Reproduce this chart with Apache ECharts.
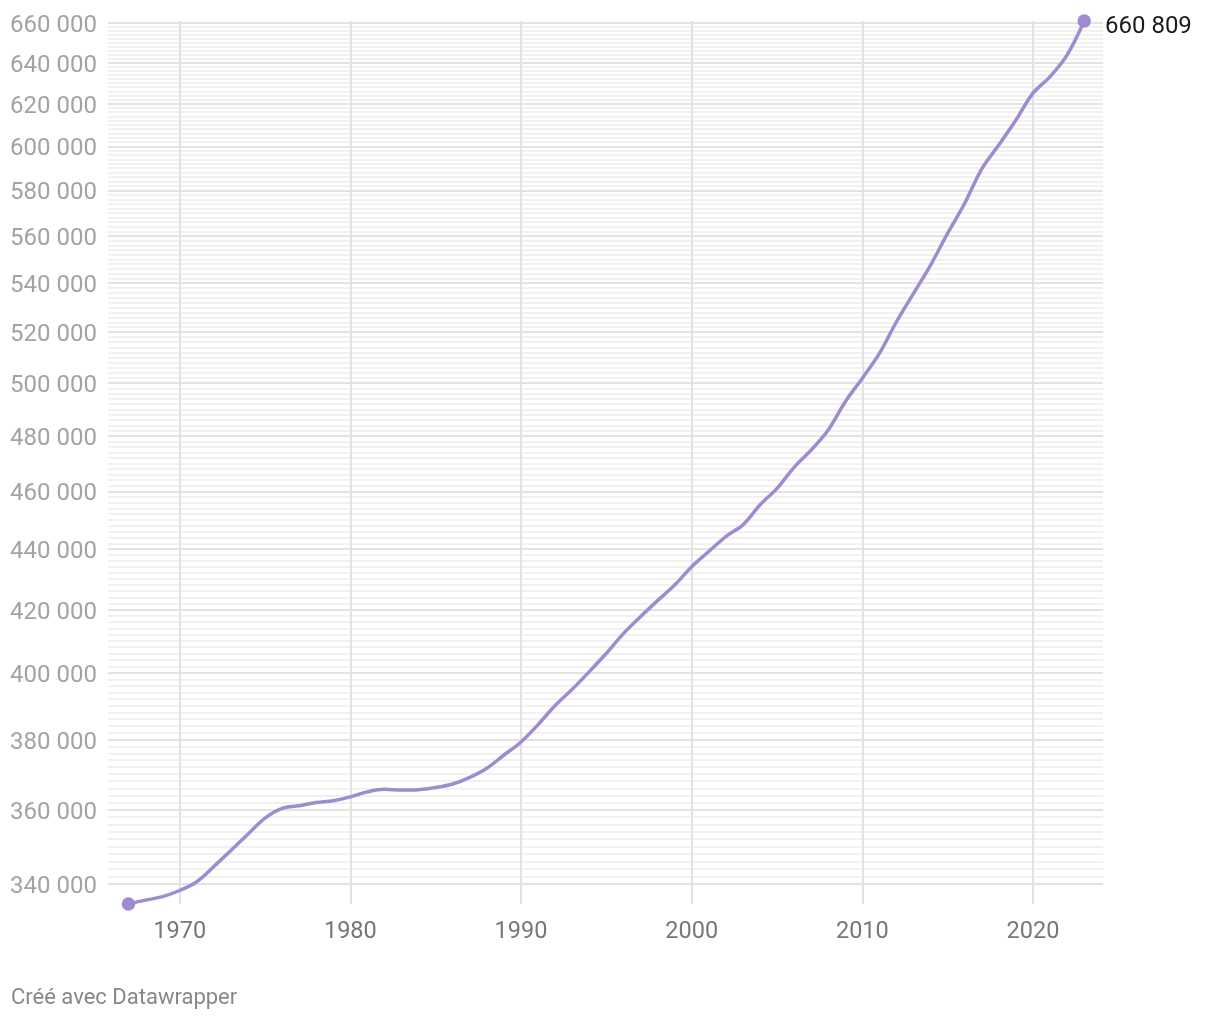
<!DOCTYPE html>
<html>
<head>
<meta charset="utf-8">
<script src="https://cdn.jsdelivr.net/npm/echarts@6/dist/echarts.min.js"></script>
<style>
html,body{margin:0;padding:0;background:#fff;}
#chart{width:1220px;height:1020px;}
</style>
</head>
<body>
<div id="chart"></div>
<script>
const years = [1967,1968,1969,1970,1971,1972,1973,1974,1975,1976,1977,1978,1979,1980,1981,1982,1983,1984,1985,1986,1987,1988,1989,1990,1991,1992,1993,1994,1995,1996,1997,1998,1999,2000,2001,2002,2003,2004,2005,2006,2007,2008,2009,2010,2011,2012,2013,2014,2015,2016,2017,2018,2019,2020,2021,2022,2023];
const population = [334800,335800,336700,338300,340600,344600,348900,353300,357700,360400,361100,362000,362500,363600,365000,365700,365500,365600,366200,367200,369100,371700,375500,379300,384400,390100,395000,400400,406100,412300,417700,422900,428000,434100,439200,444300,448300,455200,461100,468600,474900,482300,492900,501900,511600,524200,535800,547600,561200,574300,589700,600700,612300,625100,633100,643800,660809];
const yTicks = [340000,360000,380000,400000,420000,440000,460000,480000,500000,520000,540000,560000,580000,600000,620000,640000,660000];
const xTicks = [1970,1980,1990,2000,2010,2020];
const minorStep = 2000;

function fmt(v){ return String(v).replace(/\B(?=(\d{3})+(?!\d))/g, ' '); }

const minorTicks = [];
for (let v = yTicks[0] + minorStep; v < yTicks[yTicks.length-1]; v += minorStep) {
  if (yTicks.indexOf(v) < 0) minorTicks.push(v);
}

const yMin = Math.log(Math.min.apply(null, population));
const yMax = Math.log(Math.max.apply(null, population));
const lastIdx = population.length - 1;

const seriesData = years.map((y, i) => {
  const item = { value: [y, Math.log(population[i])] };
  if (i === lastIdx) {
    item.label = {
      show: true, position: 'right', distance: 14, offset: [0, 6],
      formatter: fmt(population[i]),
      color: '#1a1a1a', fontSize: 24, fontFamily: 'Roboto'
    };
  }
  return item;
});

const chart = echarts.init(document.getElementById('chart'), null, { renderer: 'canvas' });
chart.setOption({
  animation: false,
  backgroundColor: '#ffffff',
  grid: { left: 108, right: 117, top: 21, bottom: 116, containLabel: false },
  xAxis: {
    type: 'value', min: 1965.8, max: 2024.1,
    axisLine: { show: false },
    axisTick: { show: false, customValues: xTicks },
    axisLabel: {
      customValues: xTicks, color: '#777777', fontSize: 23.5, fontFamily: 'Roboto', margin: 16,
      formatter: v => String(v)
    },
    splitLine: { show: true, lineStyle: { color: '#e2e2e2', width: 2 } }
  },
  yAxis: [
    {
      type: 'value', min: yMin, max: yMax,
      axisLine: { show: false },
      axisTick: { show: false, customValues: minorTicks.map(v => Math.log(v)) },
      axisLabel: { show: false },
      splitLine: { show: true, lineStyle: { color: '#f1f1f1', width: 2 } }
    },
    {
      type: 'value', min: yMin, max: yMax, position: 'left',
      axisLine: { show: false },
      axisTick: { show: false, customValues: yTicks.map(v => Math.log(v)) },
      axisLabel: {
        customValues: yTicks.map(v => Math.log(v)),
        color: '#a3a3a3', fontSize: 24, fontFamily: 'Roboto', margin: 11, align: 'right',
        formatter: v => '{t|' + fmt(Math.round(Math.exp(v) / 1000) * 1000) + '}',
        rich: { t: { color: '#a3a3a3', fontSize: 24, fontFamily: 'Roboto', padding: [6, 0, 0, 0] } }
      },
      splitLine: { show: true, lineStyle: { color: '#e3e3e3', width: 2 } }
    }
  ],
  graphic: [{
    type: 'text', left: 11, top: 987,
    style: { text: 'Créé avec Datawrapper', fill: '#888888', fontSize: 22, fontFamily: 'Roboto' }
  }],
  series: [{
    type: 'line',
    yAxisIndex: 1,
    data: seriesData,
    smooth: 0.35,
    clip: false,
    showSymbol: true,
    symbol: 'circle',
    symbolSize: (v, p) => (p.dataIndex === 0 || p.dataIndex === lastIdx) ? 13.5 : 0,
    itemStyle: { color: '#9f8bd0' },
    lineStyle: { color: '#9f8bd0', width: 3.5 },
    emphasis: { disabled: true },
    z: 5
  }]
});
</script>
</body>
</html>
